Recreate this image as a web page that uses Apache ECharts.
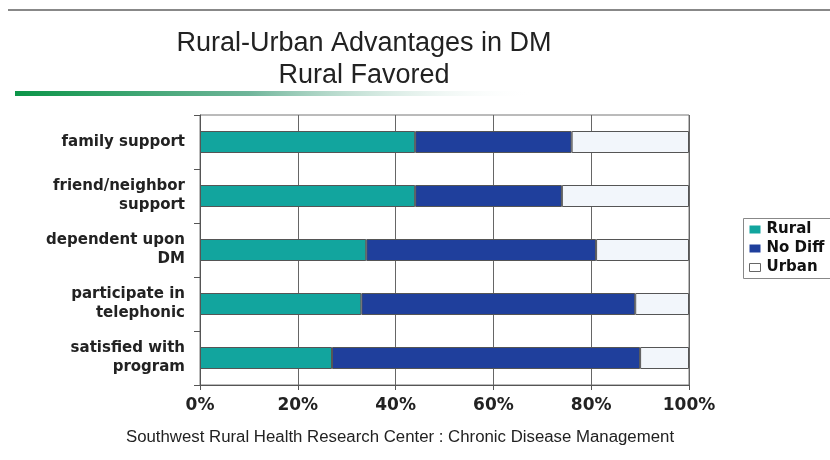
<!DOCTYPE html>
<html>
<head>
<meta charset="utf-8">
<script src="https://cdn.jsdelivr.net/npm/echarts@6/dist/echarts.min.js"></script>
<style>
  html, body { margin: 0; padding: 0; background: #fff; }
  #chart { width: 830px; height: 460px; }
</style>
</head>
<body>
<div id="chart"></div>
<script>
// 数据
const categories = [
    'family support',
    'friend/neighbor\nsupport',
    'dependent upon\nDM',
    'participate in\ntelephonic',
    'satisfied with\nprogram'
];
const ruralValues = [44, 44, 34, 33, 27];
const noDiffValues = [32, 30, 47, 56, 63];
const urbanValues = [24, 26, 19, 11, 10];
const xTicks = [0, 20, 40, 60, 80, 100];

const chart = echarts.init(document.getElementById('chart'));

const boldFont = 'DejaVu Sans, Verdana, sans-serif';
const plainFont = 'Liberation Sans, Arial, sans-serif';

// 堆叠条形
function makeBar(name, data, color) {
    return {
        name: name,
        type: 'bar',
        stack: 'total',
        barWidth: 22,
        data: data,
        itemStyle: { color: color, borderColor: '#555', borderWidth: 1 }
    };
}

const option = {
    animation: false,
    backgroundColor: '#fff',
    legend: {
        orient: 'vertical',
        left: 743,
        top: 218,
        icon: 'rect',
        itemWidth: 11,
        itemHeight: 8,
        itemGap: 4,
        padding: [4, 0, 4, 6],
        data: [
            { name: 'Rural', itemStyle: { borderWidth: 0 } },
            { name: 'No Diff', itemStyle: { borderWidth: 0 } },
            { name: 'Urban', itemStyle: { color: '#fff', borderColor: '#666', borderWidth: 1 } }
        ],
        textStyle: {
            fontFamily: boldFont,
            fontWeight: 'bold',
            fontSize: 15,
            lineHeight: 15,
            color: '#111',
            padding: [0, 0, 0, 1]
        }
    },
    grid: {
        left: 200, right: 141, top: 115, height: 270,
        show: true, borderColor: '#777', borderWidth: 1
    },
    xAxis: {
        type: 'value',
        min: 0,
        max: 100,
        interval: 20,
        axisLine: { show: true, lineStyle: { color: '#555' } },
        axisTick: { show: true, length: 5, lineStyle: { color: '#555' } },
        splitLine: { show: true, lineStyle: { color: '#666', width: 1 } },
        axisLabel: {
            margin: 12,
            formatter: v => xTicks.includes(v) ? v + '%' : '',
            fontFamily: boldFont,
            fontWeight: 'bold',
            fontSize: 17,
            color: '#222'
        }
    },
    yAxis: {
        type: 'category',
        inverse: true,
        data: categories,
        axisLine: { show: true, lineStyle: { color: '#555' } },
        axisTick: { show: true, length: 6, lineStyle: { color: '#555' } },
        axisLabel: {
            margin: 15,
            align: 'right',
            lineHeight: 19,
            fontFamily: boldFont,
            fontWeight: 'bold',
            fontSize: 15,
            color: '#222'
        }
    },
    series: [
        makeBar('Rural', ruralValues, '#12a59e'),
        makeBar('No Diff', noDiffValues, '#1f3f9c'),
        makeBar('Urban', urbanValues, '#f2f6fb')
    ],
    graphic: [
        {
            type: 'rect',
            shape: { x: 8, y: 9, width: 822, height: 2 },
            style: { fill: '#888' }
        },
        {
            type: 'rect',
            shape: { x: 15, y: 91, width: 520, height: 5 },
            style: {
                fill: new echarts.graphic.LinearGradient(0, 0, 1, 0, [
                    { offset: 0, color: '#0b9548' },
                    { offset: 0.45, color: '#6fb59a' },
                    { offset: 1, color: 'rgba(255,255,255,0)' }
                ])
            }
        },
        // 图例边框（右侧超出画面）
        {
            type: 'rect',
            shape: { x: 743.5, y: 218.5, width: 120, height: 60 },
            style: { fill: 'none', stroke: '#888', lineWidth: 1 },
            z: 10
        },
        {
            type: 'text',
            x: 364,
            y: 30,
            style: {
                text: 'Rural-Urban Advantages in DM',
                textAlign: 'center',
                textVerticalAlign: 'top',
                fontFamily: plainFont,
                fontSize: 27,
                fill: '#222'
            }
        },
        {
            type: 'text',
            x: 364,
            y: 62,
            style: {
                text: 'Rural Favored',
                textAlign: 'center',
                textVerticalAlign: 'top',
                fontFamily: plainFont,
                fontSize: 27,
                fill: '#222'
            }
        },
        {
            type: 'text',
            x: 400,
            y: 430,
            scaleX: 1.05,
            style: {
                text: 'Southwest Rural Health Research Center : Chronic Disease Management',
                textAlign: 'center',
                textVerticalAlign: 'top',
                fontFamily: plainFont,
                fontSize: 16,
                fill: '#222'
            }
        }
    ]
};

chart.setOption(option);
</script>
</body>
</html>
